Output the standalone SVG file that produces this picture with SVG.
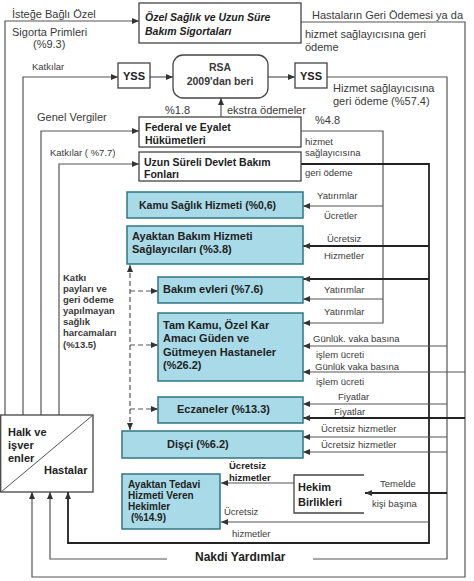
<svg xmlns="http://www.w3.org/2000/svg" width="474" height="581" viewBox="0 0 474 581">
<defs>
<marker id="ah" markerWidth="7" markerHeight="6" refX="7" refY="3" orient="auto-start-reverse" markerUnits="userSpaceOnUse"><path d="M0,0 L7,3 L0,6 z" fill="#333"/></marker>
<style>
text{font-family:"Liberation Sans","Open Sans",sans-serif;fill:#3a3a3a}
.lbl{font-size:11px}
.sm{font-size:9.5px}
.b{font-weight:bold;fill:#222}
.bi{font-weight:bold;font-style:italic;fill:#222;font-size:10.5px}
.box{fill:#fff;stroke:#444;stroke-width:1.3}
.blue{fill:#a8dae8;stroke:#2f7586;stroke-width:1.5}
.ln{fill:none;stroke:#555;stroke-width:1.2}
.th{fill:none;stroke:#222;stroke-width:1.8}
.ds{fill:none;stroke:#555;stroke-width:1.2;stroke-dasharray:5,3}
</style>
</defs>
<rect width="474" height="581" fill="#fff"/>

<g id="connectors">
<path class="ln" d="M5,415 V21 H139" marker-end="url(#ah)"/>
<path class="ln" d="M23,415 V77 H118" marker-end="url(#ah)"/>
<path class="ln" d="M41,415 V131 H139" marker-end="url(#ah)"/>
<path class="ln" d="M59,415 V164 H139" marker-end="url(#ah)"/>
<path class="ln" d="M150,77 H173" marker-end="url(#ah)"/>
<path class="ln" d="M268,77 H295" marker-end="url(#ah)"/>
<path class="ln" d="M221,117 V98" marker-end="url(#ah)"/>
<path class="ln" d="M327,77 H447 V559 H313"/>
<path class="ln" d="M167,559 H50 V492" marker-end="url(#ah)"/>
<path class="ln" d="M301,22 H465 V577 H32 V492" marker-end="url(#ah)"/>
<path class="ln" d="M301,131 H383 V323 H303" marker-end="url(#ah)"/>
<path class="th" d="M301,164 H429 V543 H68 V492" marker-end="url(#ah)"/>
<path class="ln" d="M383,206 H303" marker-end="url(#ah)"/>
<path class="ln" d="M383,299 H303" marker-end="url(#ah)"/>
<path class="th" d="M429,246 H303" marker-end="url(#ah)"/>
<path class="th" d="M429,279 H303" marker-end="url(#ah)"/>
<path class="ln" d="M429,522 H221" marker-end="url(#ah)"/>
<path class="ln" d="M447,346 H303" marker-end="url(#ah)"/>
<path class="ln" d="M465,372 H303" marker-end="url(#ah)"/>
<path class="ln" d="M447,404 H303" marker-end="url(#ah)"/>
<path class="th" d="M465,418 H303" marker-end="url(#ah)"/>
<path class="ln" d="M447,437 H303" marker-end="url(#ah)"/>
<path class="ln" d="M447,452 H303" marker-end="url(#ah)"/>
<path class="th" d="M447,493 H365" marker-end="url(#ah)"/>
<path class="ln" d="M294,483 H221" marker-end="url(#ah)"/>
<path class="ds" d="M130,265 V430" marker-start="url(#ah)" marker-end="url(#ah)"/>
<path class="ds" d="M130,291 H158" marker-end="url(#ah)"/>
<path class="ds" d="M130,345 H158" marker-end="url(#ah)"/>
<path class="ds" d="M130,409 H158" marker-end="url(#ah)"/>
</g>

<g id="labels">
<text class="lbl" x="12" y="18">İsteğe Bağlı Özel</text>
<text class="lbl" x="12" y="36">Sigorta Primleri</text>
<text class="lbl" x="33" y="48">(%9.3)</text>
<text class="sm" x="32" y="70">Katkılar</text>
<text class="lbl" x="37" y="121">Genel Vergiler</text>
<text class="sm" x="50" y="156">Katkılar ( %7.7)</text>
<text class="lbl" x="312" y="19">Hastaların Geri Ödemesi ya da</text>
<text class="lbl" x="305" y="38">hizmet sağlayıcısına geri</text>
<text class="lbl" x="305" y="51">ödeme</text>
<text class="lbl" x="333" y="92">Hizmet sağlayıcısına</text>
<text class="lbl" x="333" y="105">geri ödeme (%57.4)</text>
<text class="lbl" x="165" y="114">%1.8</text>
<text class="lbl" x="227" y="114">ekstra ödemeler</text>
<text class="lbl" x="315" y="124">%4.8</text>
<text class="sm" x="305" y="145">hizmet</text>
<text class="sm" x="305" y="156">sağlayıcısına</text>
<text class="sm" x="305" y="176">geri ödeme</text>
<text class="sm" x="317" y="199">Yatırımlar</text>
<text class="sm" x="324" y="219">Ücretler</text>
<text class="sm" x="327" y="242">Ücretsiz</text>
<text class="sm" x="324" y="259">Hizmetler</text>
<text class="sm" x="324" y="293">Yatırımlar</text>
<text class="sm" x="324" y="315">Yatırımlar</text>
<text class="sm" x="313" y="342">Günlük. vaka basına</text>
<text class="sm" x="316" y="358">işlem ücreti</text>
<text class="sm" x="315" y="370">Günlük vaka basına</text>
<text class="sm" x="316" y="385">işlem ücreti</text>
<text class="sm" x="338" y="400">Fiyatlar</text>
<text class="sm" x="334" y="415">Fiyatlar</text>
<text class="sm" x="321" y="432">Ücretsiz hizmetler</text>
<text class="sm" x="321" y="448">Ücretsiz hizmetler</text>
<text class="sm b" x="229" y="469">Ücretsiz</text>
<text class="sm b" x="229" y="481">hizmetler</text>
<text class="sm" x="224" y="515">Ücretsiz</text>
<text class="sm" x="232" y="537">hizmetler</text>
<text class="sm" x="380" y="487">Temelde</text>
<text class="sm" x="372" y="507">kişi başına</text>
<text class="b" x="195" y="561" font-size="12">Nakdi Yardımlar</text>
<g class="sm b">
<text x="63" y="281">Katkı</text>
<text x="63" y="292">payları ve</text>
<text x="63" y="303">geri ödeme</text>
<text x="63" y="314">yapılmayan</text>
<text x="63" y="325">sağlık</text>
<text x="63" y="336">harcamaları</text>
<text x="63" y="348">(%13.5)</text>
</g>
</g>

<g id="ozel-sigorta">
<rect class="box" x="139" y="3" width="162" height="40"/>
<text class="bi" x="145" y="21">Özel Sağlık ve  Uzun Süre</text>
<text class="bi" x="145" y="35">Bakım Sigortaları</text>
</g>
<g id="yss1">
<rect class="box" x="118" y="63" width="32" height="25"/>
<text class="b" x="134" y="80" font-size="11" text-anchor="middle">YSS</text>
</g>
<g id="rsa">
<rect class="box" x="173" y="55" width="95" height="43" rx="10"/>
<text x="220" y="71" font-size="10.5" text-anchor="middle" font-weight="bold" fill="#222">RSA</text>
<text x="220" y="85" font-size="10.5" text-anchor="middle" font-weight="bold" fill="#222">2009'dan beri</text>
</g>
<g id="yss2">
<rect class="box" x="295" y="63" width="32" height="25"/>
<text class="b" x="311" y="80" font-size="11" text-anchor="middle">YSS</text>
</g>
<g id="federal">
<rect class="box" x="139" y="117" width="162" height="30"/>
<text class="b" x="145" y="131" font-size="10.5">Federal ve Eyalet</text>
<text class="b" x="145" y="144" font-size="10.5">Hükümetleri</text>
</g>
<g id="uzun-sureli">
<rect class="box" x="139" y="152" width="162" height="29"/>
<text class="b" x="144" y="166" font-size="10.5">Uzun Süreli Devlet Bakım</text>
<text class="b" x="144" y="178" font-size="10.5">Fonları</text>
</g>
<g id="kamu-saglik">
<rect class="blue" x="127" y="192" width="176" height="26"/>
<text class="b" x="139" y="209" font-size="10.5">Kamu Sağlık Hizmeti (%0,6)</text>
</g>
<g id="ayaktan-bakim">
<rect class="blue" x="127" y="226" width="176" height="38"/>
<text class="b" x="132" y="240" font-size="11">Ayaktan Bakım Hizmeti</text>
<text class="b" x="132" y="253" font-size="11">Sağlayıcıları (%3.8)</text>
</g>
<g id="bakim-evleri">
<rect class="blue" x="158" y="277" width="145" height="26"/>
<text class="b" x="163" y="293" font-size="11">Bakım evleri (%7.6)</text>
</g>
<g id="hastaneler">
<rect class="blue" x="158" y="313" width="145" height="68"/>
<text class="b" x="163" y="329" font-size="11">Tam Kamu, Özel Kar</text>
<text class="b" x="163" y="342" font-size="11">Amacı Güden ve</text>
<text class="b" x="163" y="356" font-size="11">Gütmeyen Hastaneler</text>
<text class="b" x="163" y="369" font-size="11">(%26.2)</text>
</g>
<g id="eczaneler">
<rect class="blue" x="158" y="397" width="145" height="26"/>
<text class="b" x="177" y="413" font-size="11">Eczaneler (%13.3)</text>
</g>
<g id="disci">
<rect class="blue" x="122" y="431" width="181" height="27"/>
<text class="b" x="167" y="448" font-size="11">Dişçi (%6.2)</text>
</g>
<g id="ayaktan-tedavi">
<rect class="blue" x="122" y="474" width="98" height="55"/>
<text class="b" x="128" y="488" font-size="10">Ayaktan Tedavi</text>
<text class="b" x="128" y="499" font-size="10">Hizmeti Veren</text>
<text class="b" x="128" y="510" font-size="10">Hekimler</text>
<text class="b" x="131" y="521" font-size="10">(%14.9)</text>
</g>
<g id="hekim-birlikleri">
<path class="box" d="M364,475 H294 V513 H364" fill="none"/>
<text class="b" x="298" y="491" font-size="11">Hekim</text>
<text class="b" x="298" y="506" font-size="11">Birlikleri</text>
</g>
<g id="halk-hastalar">
<rect class="box" x="0.7" y="415" width="92.3" height="77"/>
<line x1="1" y1="492" x2="93" y2="415" stroke="#555" stroke-width="1"/>
<text class="b" x="8" y="436" font-size="11">Halk ve</text>
<text class="b" x="8" y="449" font-size="11">işver</text>
<text class="b" x="8" y="462" font-size="11">enler</text>
<text class="b" x="44" y="474" font-size="11">Hastalar</text>
</g>
</svg>
